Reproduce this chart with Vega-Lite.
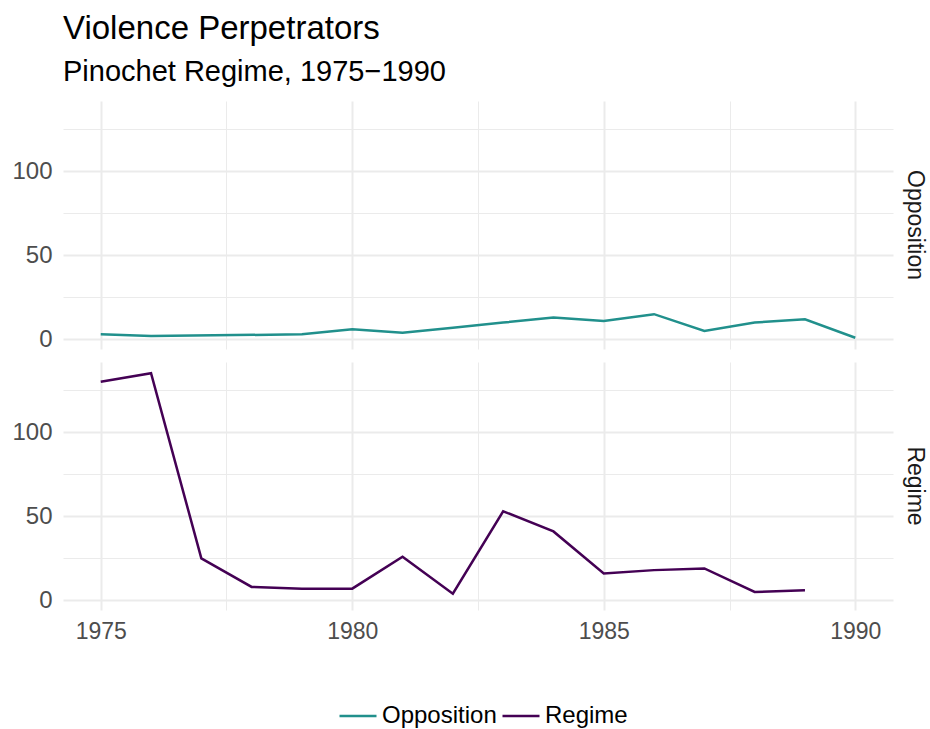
{
  "$schema": "https://vega.github.io/schema/vega-lite/v6.json",
  "padding": {"left": 11, "top": 13, "right": 4, "bottom": 0},
  "background": "white",
  "title": {
    "text": "Violence Perpetrators",
    "subtitle": "Pinochet Regime, 1975−1990",
    "anchor": "start",
    "frame": "group",
    "font": "Liberation Sans",
    "subtitleFont": "Liberation Sans",
    "fontSize": 33,
    "subtitleFontSize": 29,
    "fontWeight": "normal",
    "color": "black",
    "subtitleColor": "black",
    "subtitlePadding": 12,
    "offset": 14
  },
  "data": {
    "values": [
      {"year": 1975, "type": "Opposition", "count": 3},
      {"year": 1976, "type": "Opposition", "count": 2},
      {"year": 1979, "type": "Opposition", "count": 3},
      {"year": 1980, "type": "Opposition", "count": 6},
      {"year": 1981, "type": "Opposition", "count": 4},
      {"year": 1982, "type": "Opposition", "count": 7},
      {"year": 1983, "type": "Opposition", "count": 10},
      {"year": 1984, "type": "Opposition", "count": 13},
      {"year": 1985, "type": "Opposition", "count": 11},
      {"year": 1986, "type": "Opposition", "count": 15},
      {"year": 1987, "type": "Opposition", "count": 5},
      {"year": 1988, "type": "Opposition", "count": 10},
      {"year": 1989, "type": "Opposition", "count": 12},
      {"year": 1990, "type": "Opposition", "count": 1},
      {"year": 1975, "type": "Regime", "count": 130},
      {"year": 1976, "type": "Regime", "count": 135},
      {"year": 1977, "type": "Regime", "count": 25},
      {"year": 1978, "type": "Regime", "count": 8},
      {"year": 1979, "type": "Regime", "count": 7},
      {"year": 1980, "type": "Regime", "count": 7},
      {"year": 1981, "type": "Regime", "count": 26},
      {"year": 1982, "type": "Regime", "count": 4},
      {"year": 1983, "type": "Regime", "count": 53},
      {"year": 1984, "type": "Regime", "count": 41},
      {"year": 1985, "type": "Regime", "count": 16},
      {"year": 1986, "type": "Regime", "count": 18},
      {"year": 1987, "type": "Regime", "count": 19},
      {"year": 1988, "type": "Regime", "count": 5},
      {"year": 1989, "type": "Regime", "count": 6}
    ]
  },
  "spacing": 13,
  "facet": {
    "row": {
      "field": "type",
      "type": "nominal",
      "header": {
        "title": null,
        "labelOrient": "right",
        "labelAngle": 90,
        "labelFont": "Liberation Sans",
        "labelFontSize": 23,
        "labelColor": "#1A1A1A",
        "labelPadding": 10
      }
    }
  },
  "spec": {
    "width": 830,
    "height": 248,
    "mark": {"type": "line", "strokeWidth": 2.5},
    "encoding": {
      "x": {
        "field": "year",
        "type": "quantitative",
        "scale": {"domain": [1974.25, 1990.75], "nice": false, "zero": false},
        "axis": {
          "title": null,
          "values": [1975, 1977.5, 1980, 1982.5, 1985, 1987.5, 1990],
          "format": "d",
          "labelExpr": "datum.value % 5 === 0 ? datum.label : ''",
          "ticks": false,
          "domain": false,
          "labelPadding": 10,
          "labelFont": "Liberation Sans",
          "labelFontSize": 23,
          "labelColor": "#4D4D4D",
          "labelFlush": false,
          "gridColor": "#EBEBEB",
          "gridWidth": {"condition": {"test": "datum.value % 5 === 0", "value": 2}, "value": 1}
        }
      },
      "y": {
        "field": "count",
        "type": "quantitative",
        "scale": {"domain": [-5.7, 141.7], "nice": false, "zero": false},
        "axis": {
          "title": null,
          "values": [0, 25, 50, 75, 100, 125],
          "labelExpr": "datum.value % 50 === 0 ? datum.label : ''",
          "ticks": false,
          "domain": false,
          "labelPadding": 11,
          "labelFont": "Liberation Sans",
          "labelFontSize": 24,
          "labelColor": "#4D4D4D",
          "labelFlush": false,
          "gridColor": "#EBEBEB",
          "gridWidth": {"condition": {"test": "datum.value % 50 === 0", "value": 2.2}, "value": 1}
        }
      },
      "color": {
        "field": "type",
        "type": "nominal",
        "scale": {"domain": ["Opposition", "Regime"], "range": ["#21908C", "#440154"]},
        "legend": {
          "title": null,
          "orient": "none",
          "legendX": 275,
          "legendY": 595,
          "direction": "horizontal",
          "symbolType": "stroke",
          "symbolSize": 1369,
          "symbolStrokeWidth": 2.5,
          "labelFont": "Liberation Sans",
          "labelFontSize": 24,
          "labelColor": "black",
          "labelOffset": 4,
          "columnPadding": 0
        }
      }
    }
  },
  "config": {
    "view": {"stroke": null}
  }
}
